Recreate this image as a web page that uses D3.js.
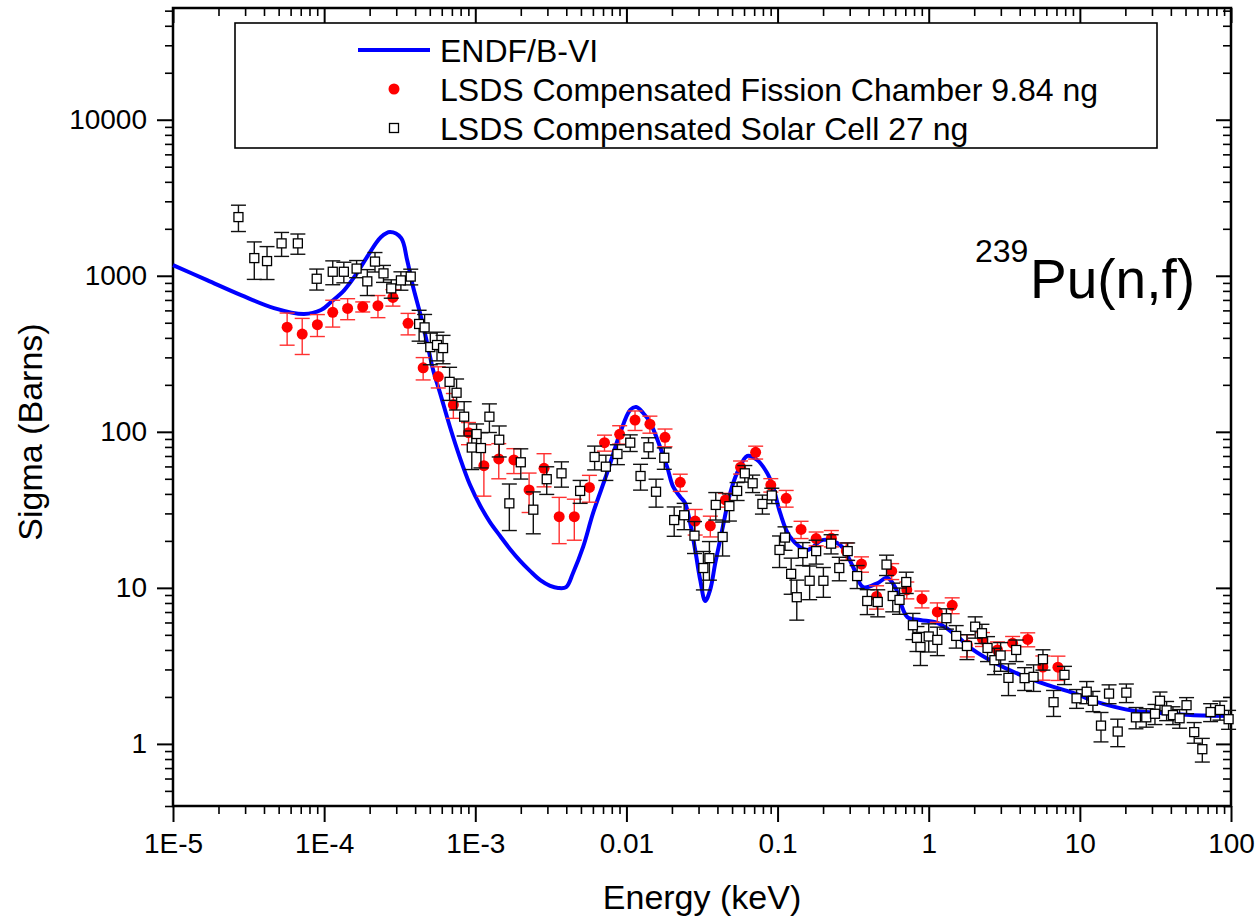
<!DOCTYPE html>
<html>
<head>
<meta charset="utf-8">
<script src="https://cdn.jsdelivr.net/npm/d3@7"></script>
<style>
  html, body { margin: 0; padding: 0; background: #fff; }
</style>
</head>
<body>
<div id="chart"></div>
<script>
// ENDF/B-VI evaluated cross section (keV, barns)
const endfEnergy = [1e-5, 1.68e-5, 2.82e-5, 4.66e-5, 7.36e-5, 9.53e-5, 1.11e-4, 1.36e-4, 1.65e-4, 1.92e-4,
  2.38e-4, 2.73e-4, 3.23e-4, 3.54e-4, 3.88e-4, 4.31e-4, 4.80e-4, 5.26e-4, 5.85e-4, 6.81e-4,
  7.93e-4, 9.24e-4, 1.08e-3, 1.25e-3, 1.46e-3, 1.70e-3, 1.98e-3, 2.31e-3, 2.69e-3, 3.13e-3,
  3.53e-3, 3.99e-3, 4.44e-3,
  5.17e-3, 6.02e-3, 7.45e-3, 9.09e-3, 1.06e-2, 1.16e-2, 1.29e-2, 1.44e-2, 1.67e-2, 1.86e-2,
  2.04e-2, 2.27e-2, 2.44e-2, 2.64e-2, 2.85e-2, 3.08e-2, 3.32e-2, 3.58e-2, 3.87e-2, 4.30e-2,
  4.86e-2, 5.40e-2, 6.30e-2, 7.33e-2, 8.53e-2, 9.35e-2, 0.104, 0.121, 0.157, 0.200,
  0.260, 0.316, 0.368, 0.456, 0.531, 0.600, 0.721, 0.879, 1.14, 1.45,
  1.97, 2.67, 4.04, 6.08, 9.04, 13.6, 22.6, 34.0, 53.8, 100];
const endfSigma = [1171, 938, 752, 621, 569, 603, 679, 810, 1041, 1318,
  1770, 1905, 1745, 1261, 847, 577, 371, 249, 177, 107,
  67.9, 45.6, 33.5, 26.4, 21.5, 17.7, 14.9, 12.8, 11.2, 10.3,
  9.98, 10.1, 12.5,
  18.3, 30.2, 54.5, 98.3, 138, 144, 132, 114, 80, 59.5,
  44.3, 38.2, 35, 26.1, 17.5, 11.2, 8.24, 9.7, 14.4, 23.5,
  40.5, 54.5, 70, 66, 54.5, 44.3, 30.2, 21.2, 17.5, 20.3,
  18.8, 13.6, 10.1, 10.7, 11.6, 10.1, 6.51, 6.23, 5.96, 5.14,
  4.0, 3.35, 2.77, 2.39, 2.12, 1.83, 1.63, 1.58, 1.53, 1.51];

// LSDS compensated fission chamber, 9.84 ng
const fcEnergy = [5.69e-5, 7.16e-5, 9.02e-5, 1.14e-4, 1.43e-4, 1.80e-4, 2.27e-4, 2.85e-4, 3.59e-4, 4.52e-4,
  5.69e-4, 7.16e-4, 9.02e-4, 1.14e-3, 1.43e-3, 1.80e-3, 2.27e-3, 2.85e-3, 3.59e-3, 4.52e-3,
  5.69e-3, 7.16e-3, 9.02e-3, 1.14e-2, 1.43e-2, 1.80e-2, 2.27e-2, 2.85e-2, 3.59e-2, 4.52e-2,
  5.69e-2, 7.16e-2, 9.02e-2, 0.114, 0.143, 0.180, 0.227, 0.285, 0.359, 0.452,
  0.569, 0.716, 0.902, 1.14, 1.43, 1.80, 2.27, 2.85, 3.59, 4.52,
  5.69, 7.16];
const fcSigma = [468, 423, 486, 583, 618, 633, 643, 727, 496, 257,
  226, 149, 98.7, 60.7, 67, 66, 42.4, 58.4, 28.6, 28.6,
  44.0, 85.2, 96.4, 119, 112, 92.2, 47.5, 26.8, 25.0, 36.6,
  59.3, 73.9, 45.6, 37.5, 23.7, 20.7, 20.8, 17.2, 14.2, 8.81,
  12.8, 9.70, 8.49, 7.01, 7.73, 4.31, 4.69, 4.0, 4.42, 4.67,
  3.11, 3.10];
const fcError = [109, 110, 78, 114, 95, 47, 104, 88, 78, 42,
  35, 27, 16, 22, 17, 12, 12, 14, 9.4, 8.4,
  8.6, 10, 13, 17, 14, 12, 6, 5, 3.8, 3.7,
  5.7, 7, 4.5, 4.6, 3, 2.1, 2.5, 2.2, 1.6, 1.5,
  1.5, 1.2, 1.05, 1.0, 0.9, 0.7, 0.48, 0.5, 0.46, 0.48,
  0.55, 0.55];

// LSDS compensated solar cell, 27 ng
const scEnergy = [2.71e-5, 3.45e-5, 4.19e-5, 5.23e-5, 6.70e-5, 8.93e-5, 1.14e-4, 1.35e-4, 1.64e-4, 1.93e-4,
  2.17e-4, 2.47e-4, 2.78e-4, 3.22e-4, 3.74e-4, 4.25e-4, 4.62e-4, 5.04e-4, 5.58e-4, 6.12e-4,
  6.76e-4, 7.52e-4, 8.44e-4, 9.48e-4, 1.02e-3, 1.09e-3, 1.24e-3, 1.44e-3, 1.68e-3, 2.00e-3,
  2.42e-3, 2.97e-3, 3.72e-3, 4.94e-3, 6.16e-3, 7.31e-3, 8.72e-3, 1.06e-2, 1.24e-2, 1.40e-2,
  1.57e-2, 1.78e-2, 2.07e-2, 2.41e-2, 2.82e-2, 3.23e-2, 3.54e-2, 3.90e-2, 4.33e-2, 4.80e-2,
  5.40e-2, 6.07e-2, 6.84e-2, 7.94e-2, 9.16e-2, 0.103, 0.112, 0.123, 0.134, 0.147,
  0.163, 0.180, 0.201, 0.226, 0.256, 0.291, 0.336, 0.392, 0.460, 0.526,
  0.578, 0.641, 0.710, 0.786, 0.836, 0.882, 1.00, 1.14, 1.31, 1.52,
  1.79, 2.03, 2.25, 2.45, 2.72, 2.99, 3.37, 3.79, 4.31, 4.94,
  5.70, 6.70, 7.91, 9.51, 11.1, 12.2, 13.8, 15.6, 17.8, 20.3,
  23.5, 27.5, 31.4, 33.9, 37.5, 41.3, 45.7, 50.8, 57.1, 64.6,
  73.3, 84.5, 96.4];
const scSigma = [2377, 1298, 1242, 1613, 1613, 957, 1061, 1061, 1112, 921,
  1233, 1036, 830, 934, 988, 491, 467, 349, 360, 344,
  209, 178, 125, 79.3, 96.8, 78.7, 125, 89, 34.8, 63.8,
  31.7, 49.7, 54.2, 41.8, 69, 59.8, 72.1, 85.2, 52.1, 79.6,
  41.3, 68.2, 27.2, 29.2, 21.6, 13.4, 15.5, 34, 21.2, 33.4,
  41.8, 54.2, 46.8, 34.5, 39.1, 17.5, 21, 12.3, 8.71, 16.7,
  11.1, 17.2, 11.1, 19.2, 13.4, 17.2, 11.9, 8.24, 8.12, 14.1,
  8.87, 8.37, 10.9, 5.76, 4.78, 4.18, 4.88, 4.64, 6.39, 4.92,
  4.24, 5.64, 5.12, 4.12, 3.44, 3.69, 2.65, 4.0, 2.64, 2.69,
  3.49, 1.85, 2.77, 1.96, 2.16, 1.89, 1.31, 2.10, 1.20, 2.13,
  1.48, 1.48, 1.56, 1.89, 1.64, 1.53, 1.46, 1.77, 1.19, 0.925,
  1.60, 1.65, 1.44];
const scError = [456, 350, 296, 282, 239, 147, 185, 160, 140, 174,
  176, 129, 112, 126, 114, 110, 98, 80, 75, 71,
  50, 40, 31, 22, 15.5, 20, 26, 20, 11.5, 14,
  9.5, 10, 10, 7, 12, 11, 10.5, 10.4, 9.8, 12,
  8.4, 10.7, 5.8, 5.6, 5, 3.7, 4.3, 6.8, 5.2, 6.6,
  5.5, 6.6, 6, 4.8, 4.4, 4, 3.6, 3.2, 2.5, 2.8,
  2.7, 3, 2.4, 2.7, 2.3, 2.2, 2, 1.5, 1.6, 2.1,
  1.85, 1.6, 1.7, 1.1, 0.87, 1.0, 1.0, 0.96, 0.95, 0.81,
  0.77, 0.88, 0.72, 0.75, 0.66, 0.77, 0.61, 0.63, 0.44, 0.52,
  0.52, 0.35, 0.37, 0.27, 0.35, 0.28, 0.28, 0.29, 0.24, 0.29,
  0.23, 0.2, 0.23, 0.26, 0.23, 0.2, 0.2, 0.21, 0.18, 0.16,
  0.21, 0.23, 0.2];

const xTickValues = [1e-5, 1e-4, 1e-3, 1e-2, 1e-1, 1, 10, 100];
const xTickLabels = ["1E-5", "1E-4", "1E-3", "0.01", "0.1", "1", "10", "100"];
const yTickValues = [1, 10, 100, 1000, 10000];
const yTickLabels = ["1", "10", "100", "1000", "10000"];
const legendLabels = ["ENDF/B-VI", "LSDS Compensated Fission Chamber 9.84 ng", "LSDS Compensated Solar Cell 27 ng"];

const width = 1256;
const height = 917;
const plotLeft = 173, plotRight = 1231, plotTop = 8, plotBottom = 806;
const font = "'Liberation Sans', Arial, Helvetica, sans-serif";

const blue = "#0000ff";
const red = "#ff0000";
const redBar = "#ff3030";
const black = "#000";

const svg = d3.select("#chart").append("svg")
  .attr("width", width)
  .attr("height", height)
  .style("font-family", font);

const x = d3.scaleLog().domain([1e-5, 100]).range([plotLeft, plotRight]);
const y = d3.scaleLog().domain([0.4, 52000]).range([plotBottom, plotTop]);

// minor tick positions (2..9 within each decade)
function minorTicks(scale) {
  const [a, b] = scale.domain();
  const out = [];
  for (let e = Math.floor(Math.log10(a)); e <= Math.ceil(Math.log10(b)); e++) {
    for (let m = 2; m <= 9; m++) {
      const v = m * Math.pow(10, e);
      if (v >= a && v <= b) out.push(v);
    }
  }
  return out;
}

function styleAxis(g, w) {
  g.select(".domain").remove();
  g.selectAll(".tick line").attr("stroke", black).attr("stroke-width", w);
  g.selectAll(".tick text").attr("fill", black).attr("font-family", font).attr("font-size", "28px");
}

// bottom
svg.append("g").attr("transform", `translate(0,${plotBottom})`)
  .call(d3.axisBottom(x).tickValues(minorTicks(x)).tickSize(8).tickFormat(""))
  .call(g => styleAxis(g, 1.6));
svg.append("g").attr("transform", `translate(0,${plotBottom})`)
  .call(d3.axisBottom(x).tickValues(xTickValues).tickSize(16).tickPadding(11)
    .tickFormat((d, i) => xTickLabels[i]))
  .call(g => styleAxis(g, 2));

// top (inward)
svg.append("g").attr("transform", `translate(0,${plotTop})`)
  .call(d3.axisTop(x).tickValues(minorTicks(x)).tickSize(-8).tickFormat(""))
  .call(g => styleAxis(g, 1.6));
svg.append("g").attr("transform", `translate(0,${plotTop})`)
  .call(d3.axisTop(x).tickValues(xTickValues).tickSize(-15).tickFormat(""))
  .call(g => styleAxis(g, 2));

// left
svg.append("g").attr("transform", `translate(${plotLeft},0)`)
  .call(d3.axisLeft(y).tickValues(minorTicks(y)).tickSize(8).tickFormat(""))
  .call(g => styleAxis(g, 1.6));
svg.append("g").attr("transform", `translate(${plotLeft},0)`)
  .call(d3.axisLeft(y).tickValues(yTickValues).tickSize(16).tickPadding(10)
    .tickFormat((d, i) => yTickLabels[i]))
  .call(g => styleAxis(g, 2));

// right (inward)
svg.append("g").attr("transform", `translate(${plotRight},0)`)
  .call(d3.axisRight(y).tickValues(minorTicks(y)).tickSize(-8).tickFormat(""))
  .call(g => styleAxis(g, 1.6));
svg.append("g").attr("transform", `translate(${plotRight},0)`)
  .call(d3.axisRight(y).tickValues(yTickValues).tickSize(-15).tickFormat(""))
  .call(g => styleAxis(g, 2));

// frame
svg.append("rect")
  .attr("x", plotLeft).attr("y", plotTop)
  .attr("width", plotRight - plotLeft).attr("height", plotBottom - plotTop)
  .attr("fill", "none").attr("stroke", black).attr("stroke-width", 2.5);

const plot = svg.append("g");

// ENDF curve
const endf = endfEnergy.map((e, i) => [e, endfSigma[i]]);
plot.append("path")
  .datum(endf)
  .attr("d", d3.line().x(d => x(d[0])).y(d => y(d[1])).curve(d3.curveCatmullRom.alpha(0.5)))
  .attr("fill", "none")
  .attr("stroke", blue)
  .attr("stroke-width", 4)
  .attr("stroke-linejoin", "round");

function errorBars(g, xs, ys, es, color) {
  const capW = 7.5;
  xs.forEach((e, i) => {
    const cx = x(e);
    const y1 = y(ys[i] + es[i]);
    const y2 = y(Math.max(ys[i] - es[i], 0.41));
    g.append("line").attr("x1", cx).attr("x2", cx).attr("y1", y1).attr("y2", y2)
      .attr("stroke", color).attr("stroke-width", 1.4);
    [y1, y2].forEach(yy => g.append("line")
      .attr("x1", cx - capW).attr("x2", cx + capW).attr("y1", yy).attr("y2", yy)
      .attr("stroke", color).attr("stroke-width", 1.4));
  });
}

// fission chamber: red dots
const fcG = plot.append("g");
errorBars(fcG, fcEnergy, fcSigma, fcError, redBar);
fcG.selectAll("circle")
  .data(fcEnergy)
  .join("circle")
  .attr("cx", d => x(d))
  .attr("cy", (d, i) => y(fcSigma[i]))
  .attr("r", 5.5)
  .attr("fill", red);

// solar cell: open squares
const scG = plot.append("g");
errorBars(scG, scEnergy, scSigma, scError, "#111");
const sq = 9;
scG.selectAll("rect")
  .data(scEnergy)
  .join("rect")
  .attr("x", d => x(d) - sq / 2)
  .attr("y", (d, i) => y(scSigma[i]) - sq / 2)
  .attr("width", sq)
  .attr("height", sq)
  .attr("fill", "#fff")
  .attr("stroke", black)
  .attr("stroke-width", 1.3);

// legend
const legend = svg.append("g");
legend.append("rect")
  .attr("x", 235).attr("y", 23).attr("width", 922).attr("height", 125)
  .attr("fill", "#fff").attr("stroke", black).attr("stroke-width", 1.6);
const rowY = [50, 89, 128];
legend.append("line")
  .attr("x1", 358).attr("x2", 430).attr("y1", rowY[0]).attr("y2", rowY[0])
  .attr("stroke", blue).attr("stroke-width", 4);
legend.append("circle").attr("cx", 394).attr("cy", rowY[1]).attr("r", 5.5).attr("fill", red);
legend.append("rect")
  .attr("x", 394 - sq / 2).attr("y", rowY[2] - sq / 2).attr("width", sq).attr("height", sq)
  .attr("fill", "#fff").attr("stroke", black).attr("stroke-width", 1.3);
legendLabels.forEach((t, i) => {
  legend.append("text")
    .attr("x", 440).attr("y", rowY[i] + 11.5)
    .attr("font-size", "32px").attr("fill", black)
    .text(t);
});

// reaction label
svg.append("text")
  .attr("x", 975).attr("y", 262)
  .attr("font-size", "32px").attr("fill", black)
  .text("239");
svg.append("text")
  .attr("x", 1030).attr("y", 298)
  .attr("font-size", "55px").attr("fill", black)
  .text("Pu(n,f)");

// axis titles
svg.append("text")
  .attr("x", (plotLeft + plotRight) / 2).attr("y", 909)
  .attr("text-anchor", "middle")
  .attr("font-size", "34px").attr("fill", black)
  .text("Energy (keV)");
svg.append("text")
  .attr("transform", "translate(42,432) rotate(-90)")
  .attr("text-anchor", "middle")
  .attr("font-size", "34px").attr("fill", black)
  .text("Sigma (Barns)");
</script>
</body>
</html>
